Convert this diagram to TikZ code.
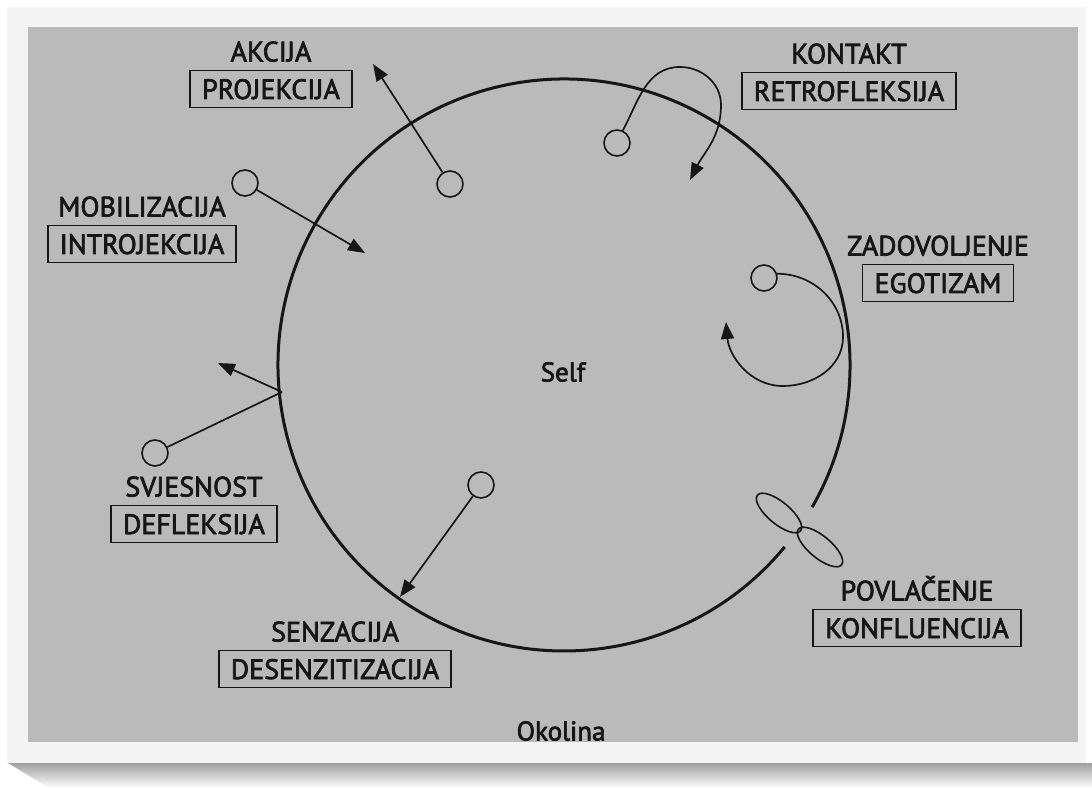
\documentclass[tikz,border=0pt]{standalone}
\usepackage{fontspec}
\setmainfont{PT Sans}[FakeBold=2.5]
\usetikzlibrary{arrows.meta,positioning}

\definecolor{inkc}{RGB}{22,22,22}
\definecolor{paper}{RGB}{186,186,186}
\definecolor{frame}{RGB}{244,244,244}

\tikzset{
  lettering/.style={font=\fontsize{28}{28}\selectfont, text=inkc},
  mech/.style={lettering, draw=inkc, line width=1.7pt, text height=20pt, text depth=0pt,
    inner xsep=12pt, inner ysep=0pt, minimum height=37pt},
  stage/.style={lettering, text height=20pt, text depth=0pt, inner sep=0pt},
  knot/.style={circle, draw=inkc, line width=1.6pt, minimum size=26pt, inner sep=0pt},
  link/.style={draw=inkc, line width=1.7pt},
  arr/.style={link, -{Triangle[length=17pt,width=13pt]}},
}

\begin{document}
\begin{tikzpicture}[x=1pt, y=1pt]
\useasboundingbox (0,0) rectangle (1092,788);
% photo on its card
\fill[white] (0,0) rectangle (1092,788);
\shade[top color=gray!75, bottom color=white] (8,25) -- (1092,25) -- (1092,0) -- (49,0) -- cycle;
\fill[frame] (7,25) rectangle (1086,781);
\fill[paper] (28,46) rectangle (1078,761);

% the self, open where it meets the confluence loops
\coordinate (self) at (564,423);
\draw[inkc, line width=3pt] (self) ++(-29.8:286) arc[start angle=-29.8, end angle=320.5, radius=286];
\node[lettering, font=\fontsize{27}{27}\selectfont] (selftxt) at (563,416) {Self};
\node[lettering, font=\fontsize{27}{27}\selectfont] (okolina) at (561,57) {Okolina};

% stages of the cycle and their interruptions
\foreach \n/\x/\y/\top/\low in {
    a/271/699/AKCIJA/PROJEKCIJA,
    k/849/697/KONTAKT/RETROFLEKSIJA,
    m/142/544/MOBILIZACIJA/INTROJEKCIJA,
    z/938/505/ZADOVOLJENJE/EGOTIZAM,
    s/194/264/SVJESNOST/DEFLEKSIJA,
    n/335/119/SENZACIJA/DESENZITIZACIJA,
    p/917/160/POVLAČENJE/KONFLUENCIJA}{
  \node[mech] (b\n) at (\x,\y) {\low};
  \node[stage, above=8pt of b\n] (t\n) {\top};
}

% small circles
\node[knot] (kA) at (450,604) {};
\node[knot] (kK) at (617,645) {};
\node[knot] (kM) at (245,605) {};
\node[knot] (kZ) at (764,510) {};
\node[knot] (kS) at (155,335) {};
\node[knot] (kN) at (481,303) {};

\coordinate (tipA) at (373,724);
\coordinate (tipM) at (365,535);
\coordinate (tipN) at (400,191);
\coordinate (rim)  at (282,396);
\coordinate (tipS) at (218,425);

\draw[arr] (kA) -- (tipA);
\draw[arr] (kM) -- (tipM);
\draw[arr] (kN) -- (tipN);
\draw[arr] (rim) -- (tipS);
\draw[link] (rim) -- (kS);

% retroflexion: turns back into the self
\coordinate (kTop) at (680,721);
\coordinate (kRight) at (721,683);
\coordinate (tipK) at (690,608);
\draw[arr] (kK.65) to[out=62,in=180] (kTop) to[out=0,in=90] (kRight) to[out=-90,in=63] (tipK);

% egotism: loops round inside
\coordinate (zRight) at (843,451);
\coordinate (zLow) at (783,402);
\coordinate (tipZ) at (726,466);
\draw[arr] (kZ.18) to[out=0,in=90] (zRight) to[out=-90,in=0] (zLow) to[out=180,in=-85] (tipZ);

% confluence
\draw[inkc, line width=1.6pt] (779,275) ellipse[x radius=28, y radius=11, rotate=-39.7];
\draw[inkc, line width=1.6pt] (820,241) ellipse[x radius=28, y radius=11, rotate=-39.7];
\end{tikzpicture}
\end{document}
